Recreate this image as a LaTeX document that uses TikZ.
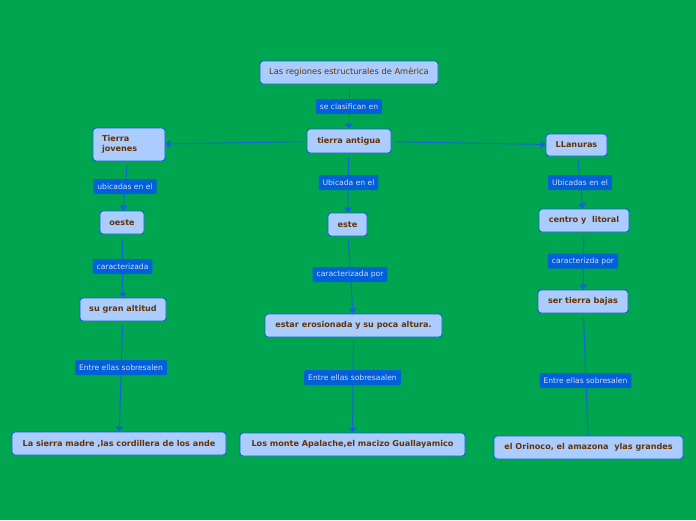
\documentclass[tikz,border=0pt]{standalone}
\usepackage{fontspec}
\setmainfont{DejaVu Sans}
\usepackage{xcolor}
\usetikzlibrary{shapes,arrows.meta,positioning,calc}
\definecolor{bggreen}{RGB}{0,165,80}
\definecolor{boxfill}{RGB}{170,204,255}
\definecolor{boxline}{RGB}{20,96,210}
\definecolor{labfill}{RGB}{0,96,216}
\definecolor{txtbrown}{RGB}{102,51,0}
\definecolor{linkblue}{RGB}{20,100,215}
\begin{document}
\begin{tikzpicture}[x=1pt, y=-1pt]
% Define styles
\tikzstyle{topic} = [rectangle, draw=boxline, fill=boxfill, rounded corners=3pt, line width=0.9pt, text=txtbrown, font=\fontsize{8.1}{10}\selectfont\bfseries, minimum height=23pt, inner sep=2pt]
\tikzstyle{root} = [topic, font=\fontsize{8.3}{10}\selectfont]
\tikzstyle{linklabel} = [rectangle, fill=labfill, rounded corners=1pt, text={white!85!blue}, font=\fontsize{7.6}{9}\selectfont, minimum height=15pt, inner xsep=4pt, inner ysep=2pt]
\tikzstyle{arrow} = [linkblue, line width=1pt, -{Triangle[width=8pt,length=5pt]}, shorten <=4pt]
\tikzstyle{plainlink} = [linkblue, line width=1pt, shorten <=4pt]

% Background
\fill[bggreen] (0,0) rectangle (696,520);
\useasboundingbox (0,0) rectangle (696,520);

% Main topic
\node[root, minimum width=178pt] (regiones) at (349,72.5) {Las regiones estructurales de Amèrica};
\node[topic, minimum width=84pt, minimum height=24pt] (antigua) at (349,141) {tierra antigua};

% Regions
\node[topic, minimum width=72pt, minimum height=33pt, text width=54pt, align=left] (jovenes) at (129,144.5) {Tierra\\jovenes};
\node[topic, minimum width=61pt, minimum height=22pt] (llanuras) at (576.5,145) {LLanuras};

% Locations
\node[topic, minimum width=44pt] (oeste) at (122,222.5) {oeste};
\node[topic, minimum width=39pt] (este) at (347.5,224.5) {este};
\node[topic, minimum width=90pt] (centro) at (584,220.5) {centro y\ \ litoral};

% Features
\node[topic, minimum width=86pt] (altitud) at (123,309.5) {su gran altitud};
\node[topic, minimum width=177pt] (erosion) at (353.5,325.5) {estar erosionada y su poca altura.};
\node[topic, minimum width=90pt] (bajas) at (583,301.5) {ser tierra bajas};

% Examples
\node[topic, minimum width=214pt] (sierra) at (119,443.5) {La sierra madre ,las cordillera de los ande};
\node[topic, minimum width=225pt] (apalache) at (352.5,444.5) {Los monte Apalache,el macizo Guallayamico};
\node[topic, minimum width=189pt] (orinoco) at (588.5,447.5) {el Orinoco, el amazona\ \ ylas grandes};

% Connections
\draw[arrow] (regiones) -- (antigua);
\draw[arrow] (antigua) -- (jovenes);
\draw[arrow] (antigua) -- (llanuras);
\draw[arrow] (jovenes) -- (oeste);
\draw[arrow] (antigua) -- (este);
\draw[arrow] (llanuras) -- (centro);
\draw[arrow] (oeste) -- (altitud);
\draw[arrow] (este) -- (erosion);
\draw[arrow] (centro) -- (bajas);
\draw[arrow] (altitud) -- (sierra);
\draw[arrow] (erosion) -- (apalache);
\draw[plainlink] (bajas) -- (orinoco);

% Link labels
\node[linklabel] (clasifican) at (349,106.5) {se clasifican en};
\node[linklabel] (ubicadasL) at (125,186.5) {ubicadas en el};
\node[linklabel] (ubicadaC) at (348.5,182.5) {Ubicada en el};
\node[linklabel] (ubicadasR) at (580,182.5) {Ubicadas en el};
\node[linklabel] (caracL) at (122.5,266.5) {caracterizada};
\node[linklabel] (caracC) at (350,274.5) {caracterizada por};
\node[linklabel] (caracR) at (583,261) {caracterizda por};
\node[linklabel] (entreL) at (121,367.5) {Entre ellas sobresalen};
\node[linklabel] (entreC) at (352.5,377.5) {Entre ellas sobresaalen};
\node[linklabel] (entreR) at (585.5,380.5) {Entre ellas sobresalen};
\end{tikzpicture}
\end{document}
